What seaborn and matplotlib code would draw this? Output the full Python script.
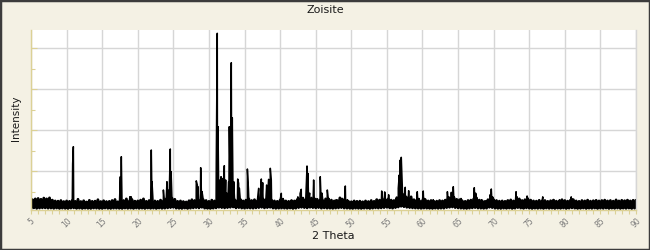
import numpy as np
import pandas as pd
import matplotlib
matplotlib.use("Agg")
import matplotlib.pyplot as plt
import seaborn as sns
from matplotlib.ticker import MultipleLocator, NullFormatter
from matplotlib.patches import Rectangle

plt.rcParams["path.simplify"] = False

# ---------------- data ----------------
title = "Zoisite"
x_label = "2 Theta"
y_label = "Intensity"
x_ticks = [5, 10, 15, 20, 25, 30, 35, 40, 45, 50, 55, 60, 65, 70, 75, 80, 85, 90]
x_tick_labels = [str(v) for v in x_ticks]

scan_start = 5.0
scan_step = 0.2
# background scan counts, one row per degree (k.0, k.2, k.4, k.6, k.8)
background_counts = [
    92, 300, 100, 320, 88,     # 5
    330, 95, 310, 100, 340,    # 6
    100, 320, 92, 345, 95,     # 7
    290, 88, 270, 95, 265,     # 8
    85, 280, 92, 255, 88,      # 9
    270, 85, 260, 95, 285,     # 10
    100, 260, 88, 310, 92,     # 11
    255, 85, 275, 92, 245,     # 12
    88, 285, 85, 260, 95,      # 13
    265, 92, 300, 85, 255,     # 14
    85, 275, 95, 255, 88,      # 15
    260, 85, 280, 92, 305,     # 16
    92, 250, 88, 270, 85,      # 17
    280, 95, 320, 88, 260,     # 18
    92, 300, 85, 265, 95,      # 19
    270, 88, 290, 92, 320,     # 20
    85, 260, 95, 280, 88,      # 21
    250, 92, 270, 85, 260,     # 22
    95, 290, 88, 270, 92,      # 23
    320, 100, 300, 108, 340,   # 24
    115, 310, 92, 260, 88,     # 25
    270, 85, 255, 95, 245,     # 26
    85, 275, 92, 300, 100,     # 27
    280, 108, 320, 100, 290,   # 28
    115, 300, 92, 280, 88,     # 29
    260, 85, 290, 92, 270,     # 30
    100, 280, 115, 320, 108,   # 31
    300, 100, 320, 108, 290,   # 32
    115, 330, 122, 300, 100,   # 33
    280, 108, 310, 95, 270,    # 34
    92, 290, 100, 320, 95,     # 35
    280, 92, 300, 100, 270,    # 36
    108, 310, 115, 320, 100,   # 37
    300, 108, 330, 115, 290,   # 38
    95, 270, 88, 260, 92,      # 39
    290, 95, 300, 92, 270,     # 40
    88, 260, 95, 280, 85,      # 41
    270, 92, 300, 108, 320,    # 42
    115, 340, 108, 300, 100,   # 43
    320, 115, 340, 108, 295,   # 44
    100, 310, 108, 290, 92,    # 45
    280, 100, 320, 92, 270,    # 46
    92, 290, 88, 270, 95,      # 47
    280, 100, 345, 108, 300,   # 48
    95, 280, 92, 260, 88,      # 49
    250, 85, 270, 92, 260,     # 50
    88, 265, 85, 250, 92,      # 51
    270, 92, 255, 85, 280,     # 52
    92, 260, 100, 300, 95,     # 53
    290, 100, 310, 108, 300,   # 54
    115, 320, 100, 290, 92,    # 55
    280, 108, 350, 122, 400,   # 56
    140, 440, 130, 380, 115,   # 57
    340, 108, 370, 100, 300,   # 58
    95, 290, 92, 270, 88,      # 59
    280, 95, 300, 92, 270,     # 60
    88, 280, 85, 260, 92,      # 61
    265, 88, 280, 92, 270,     # 62
    92, 290, 108, 320, 115,    # 63
    340, 122, 360, 108, 310,   # 64
    100, 300, 92, 270, 88,     # 65
    260, 85, 280, 92, 290,     # 66
    100, 320, 108, 340, 95,    # 67
    290, 92, 270, 88, 260,     # 68
    92, 300, 115, 350, 108,    # 69
    300, 92, 280, 88, 265,     # 70
    85, 270, 92, 260, 88,      # 71
    280, 95, 295, 85, 270,     # 72
    92, 300, 108, 320, 95,     # 73
    280, 88, 300, 100, 320,    # 74
    92, 290, 85, 270, 92,      # 75
    265, 88, 285, 92, 270,     # 76
    85, 280, 95, 260, 88,      # 77
    275, 92, 290, 85, 265,     # 78
    92, 270, 88, 300, 95,      # 79
    280, 85, 265, 92, 290,     # 80
    100, 300, 92, 270, 85,     # 81
    260, 88, 280, 95, 270,     # 82
    85, 290, 92, 265, 88,      # 83
    275, 95, 285, 85, 270,     # 84
    92, 280, 88, 290, 95,      # 85
    270, 85, 280, 92, 265,     # 86
    88, 295, 95, 270, 85,      # 87
    285, 92, 275, 88, 290,     # 88
    95, 270, 85, 285, 92,      # 89
    280,                       # 90
]

# diffraction peaks (position in 2 theta, counts)
peak_two_theta = [
    10.85, 10.95, 17.55, 17.69, 18.90, 19.05, 21.90, 22.00, 23.60,
    24.10, 24.25, 24.57, 24.68, 28.22, 28.37, 28.45, 28.84, 29.03,
    31.03, 31.17, 31.27, 31.55, 31.70, 31.83, 32.16, 32.35, 32.50,
    32.77, 32.86, 32.96, 33.14, 33.28, 33.48, 34.04, 34.17, 34.27,
    35.40, 35.55, 36.33, 36.99, 37.36, 37.55, 38.11, 38.39, 38.62,
    38.76, 40.17, 40.40, 42.50, 42.80, 42.97, 43.78, 43.90, 44.15,
    44.71, 44.94, 45.64, 45.88, 46.63, 46.86, 47.85, 48.50, 48.65,
    48.75, 49.16, 49.45, 53.50, 54.27, 54.69, 55.25, 56.32, 56.60,
    56.74, 56.88, 57.02, 57.16, 57.58, 57.78, 58.06, 59.27, 59.50,
    60.11, 60.30, 61.50, 63.50, 63.72, 64.05, 64.33, 64.47, 65.41,
    67.28, 67.47, 68.30, 69.49, 69.67, 69.85, 71.90, 73.15, 73.30,
    74.70, 74.90, 76.90, 78.45, 79.30, 80.90, 81.05, 88.90,
]
peak_counts = [
    1171, 1593, 861, 1349, 373, 373, 1512, 739, 537,
    739, 537, 1537, 983, 760, 659, 617, 1081, 495,
    1203, 4359, 2081, 781, 861, 822, 1130, 781, 460,
    739, 2081, 983, 3641, 2300, 740, 805, 700, 580,
    1049, 561, 290, 578, 805, 715, 659, 797, 1066,
    781, 456, 330, 370, 450, 554, 1122, 944, 460,
    781, 330, 861, 460, 537, 330, 300, 330, 330,
    330, 634, 300, 310, 512, 490, 420, 300, 578,
    903, 1268, 1334, 659, 603, 370, 520, 495, 330,
    512, 330, 300, 495, 370, 480, 617, 370, 330,
    593, 460, 300, 420, 561, 370, 280, 495, 370,
    390, 300, 370, 300, 300, 370, 320, 280,
]

# ---------------- build tables ----------------
bg_theta = np.round(scan_start + scan_step * np.arange(len(background_counts)), 2)
bg_df = pd.DataFrame({"two_theta": bg_theta, "counts": np.array(background_counts, float)})
df = pd.DataFrame({
    "two_theta": np.concatenate([bg_theta, np.array(peak_two_theta)]),
    "counts": np.concatenate([np.array(background_counts, float), np.array(peak_counts, float)]),
}).sort_values("two_theta").reset_index(drop=True)

# ---------------- style ----------------
BG = "#F4F1E4"
SPINE = "#DCD196"
GRID = "#D6D6D6"
TICKLBL = "#7A7A7A"

fig = plt.figure(figsize=(6.5, 2.5), dpi=100, facecolor=BG)
ax = fig.add_axes([31 / 650, 40 / 250, 605 / 650, 180 / 250])
ax.set_facecolor("white")

# dense noise band of the scan, then the full pattern on top
sns.lineplot(data=bg_df, x="two_theta", y="counts", ax=ax, color="black",
             linewidth=2.0, estimator=None, sort=True, legend=False)
sns.lineplot(data=df, x="two_theta", y="counts", ax=ax, color="black",
             linewidth=1.1, estimator=None, sort=True, legend=False)

ax.set_xlim(5, 90)
ax.set_ylim(49, 4439)

ax.set_xticks(x_ticks)
ax.set_xticklabels(x_tick_labels, rotation=45, ha="center", fontsize=5.5, color=TICKLBL)
ax.xaxis.set_minor_locator(MultipleLocator(1))
ax.yaxis.set_major_locator(MultipleLocator(1000))
ax.yaxis.set_minor_locator(MultipleLocator(500))
ax.yaxis.set_major_formatter(NullFormatter())

ax.grid(True, which="major", color=GRID, linewidth=1.0)
ax.set_axisbelow(True)

ax.tick_params(axis="x", which="both", direction="out", length=3, width=0.8,
               color=SPINE, pad=1.5)
ax.tick_params(axis="y", which="major", direction="in", length=4.5, width=0.8,
               color=SPINE, labelleft=False)
ax.tick_params(axis="y", which="minor", direction="in", length=3, width=0.8,
               color=SPINE)

for side in ("left", "bottom"):
    ax.spines[side].set_color(SPINE)
    ax.spines[side].set_linewidth(1.0)
ax.spines["top"].set_visible(False)
ax.spines["right"].set_color(GRID)
ax.spines["right"].set_linewidth(1.0)

ax.set_xlabel("")
ax.set_ylabel("")
fig.text(325 / 650, 1 - 10 / 250, title, ha="center", va="center", fontsize=8, color="#1a1a1a")
fig.text(333 / 650, 1 - 236 / 250, x_label, ha="center", va="center", fontsize=8, color="#1a1a1a")
fig.text(16 / 650, 1 - 118 / 250, y_label, ha="center", va="center", rotation=90,
         fontsize=7.5, color="#1a1a1a")

fig.add_artist(Rectangle((0, 0), 1, 1, transform=fig.transFigure, fill=False,
                         edgecolor="#3c3c3c", linewidth=2.5))

fig.savefig("out.png", dpi=100, facecolor=BG)
